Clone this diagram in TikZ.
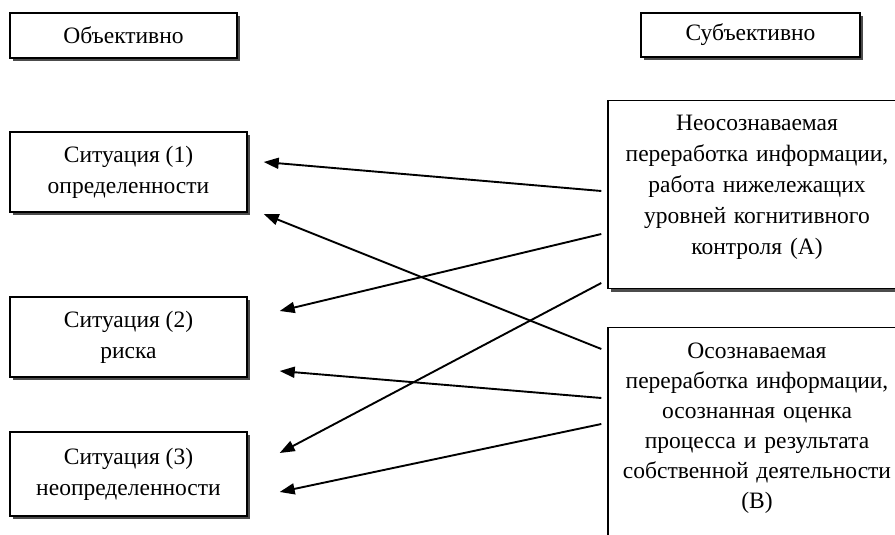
\documentclass[tikz,border=0pt]{standalone}
\usepackage{fontspec}
\setmainfont{Liberation Serif}
\usetikzlibrary{arrows.meta,shadows}
\tikzstyle{boxed} = [rectangle, draw=black, line width=1.4pt, fill=white, align=center, text centered, drop shadow={shadow xshift=3pt, shadow yshift=-3pt, fill=black!70, opacity=1}]
\tikzstyle{situation} = [boxed, minimum width=237pt, minimum height=80pt]
\tikzstyle{process} = [boxed, anchor=north, text width=284pt, inner xsep=7pt, inner ysep=0pt, text height=30pt]
\tikzstyle{connect} = [line width=1.9pt, -{Triangle[length=15pt,width=11pt]}]

\begin{document}
\begin{tikzpicture}[x=1pt, y=1pt, font=\fontsize{23.5}{31}\selectfont]
		\clip (0,0) rectangle (895,535);
		\node (obj) [boxed, minimum width=227pt, minimum height=45pt] at (123.5,499.5) {Объективно};
		\node (subj) [boxed, minimum width=219pt, minimum height=44pt] at (750.5,500) {Субъективно};
		\node (sit1) [situation] at (128.5,363) {Ситуация (1)\\определенности};
		\node (sit2) [situation] at (128.5,198) {Ситуация (2)\\риска};
		\node (sit3) [situation, minimum height=84pt] at (128.5,61) {Ситуация (3)\\неопределенности};
		\node (procA) [process, text depth=158pt] at (757,435) {Неосознаваемая\\переработка информации,\\работа нижележащих\\уровней когнитивного\\контроля (A)};
		\node (procB) [process, text height=31pt, text depth=212pt, font=\fontsize{23.5}{30}\selectfont] at (757,208) {Осознаваемая\\переработка информации,\\осознанная оценка\\процесса и результата\\собственной деятельности\\(B)};
		
		\draw [connect] ([shift={(-6,-91)}]procA.north west) -- ([shift={(16,10)}]sit1.east);
		\draw [connect] ([shift={(-6,-134)}]procA.north west) -- ([shift={(32,26)}]sit2.east);
		\draw [connect] ([shift={(-6,-183)}]procA.north west) -- ([shift={(32,21)}]sit3.east);
		\draw [connect] ([shift={(-6,-22)}]procB.north west) -- ([shift={(16,-42)}]sit1.east);
		\draw [connect] ([shift={(-6,-71)}]procB.north west) -- ([shift={(32,-34)}]sit2.east);
		\draw [connect] ([shift={(-6,-97)}]procB.north west) -- ([shift={(32,-18)}]sit3.east);
\end{tikzpicture}
\end{document}
